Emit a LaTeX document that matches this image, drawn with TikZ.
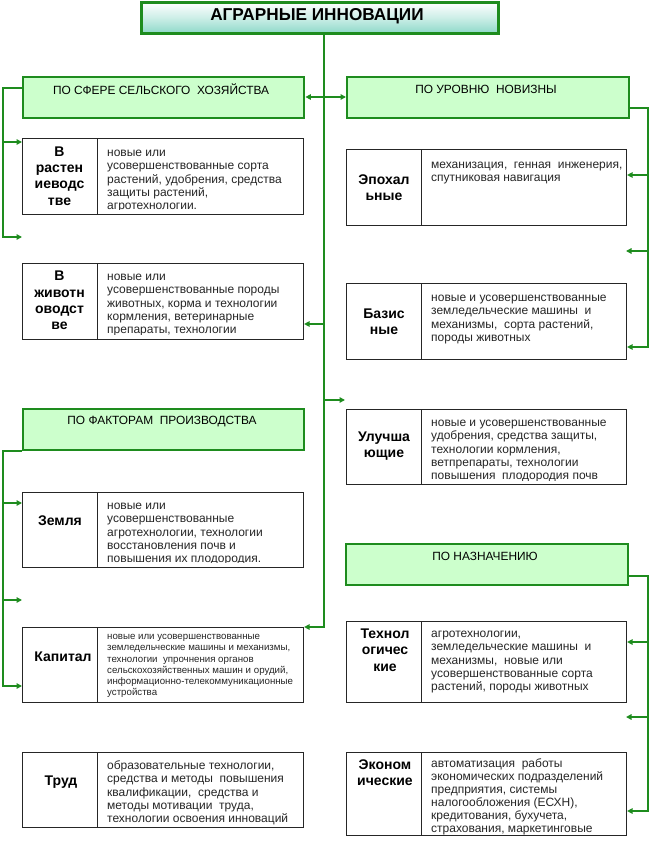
\documentclass[tikz,border=0pt]{standalone}
\usepackage{fontspec}
\setmainfont{Liberation Sans}
\usetikzlibrary{arrows.meta,calc}
\definecolor{gline}{HTML}{1E8C1E}
\definecolor{hfill}{HTML}{CCFFCC}
\definecolor{tfill}{HTML}{8ED9C9}
\definecolor{txt}{HTML}{262626}
\begin{document}
\begin{tikzpicture}[x=1pt,y=-1pt,
 conn/.style={draw=gline,line width=1.9pt},
 arr/.style={conn,-{Triangle[length=5.5pt,width=5.5pt]}},
 dbl/.style={conn,{Triangle[length=5.5pt,width=5.5pt]}-{Triangle[length=5.5pt,width=5.5pt]}},
 hdr/.style={draw=gline,line width=2.4pt,fill=hfill,anchor=north west,inner sep=0,minimum height=41pt},
 ttl/.style={draw=gline,line width=2.6pt,top color=white,bottom color=tfill,middle color=white!55!tfill,anchor=north west,inner sep=0},
 cell/.style={draw=black!85,line width=1.1pt,fill=white,anchor=north west,inner sep=0},
 lab/.style={font=\fontsize{14}{16.3}\selectfont\bfseries,align=center,inner sep=0},
 desc/.style={font=\fontsize{12}{13.4}\selectfont,text=txt,align=left,inner sep=0,anchor=north west},
 descs/.style={font=\fontsize{9.7}{11.2}\selectfont,text=txt,align=left,inner sep=0,anchor=north west},
 htxt/.style={font=\fontsize{11.9}{13}\selectfont,inner sep=0}
]
\useasboundingbox (0,0) rectangle (650,845);

% title
\node[ttl,minimum width=357pt,minimum height=31pt] (title) at (140,1) {};
\node[font=\fontsize{17.2}{19}\selectfont\bfseries,inner sep=0] (ttext) at (317,16.5) {АГРАРНЫЕ ИННОВАЦИИ};

% headers
\node[hdr,minimum width=281pt] (h1) at (22,76) {};
\node[htxt] (h1t) at (161,89) {ПО СФЕРЕ СЕЛЬСКОГО\ \ ХОЗЯЙСТВА};
\node[hdr,minimum width=282pt] (h2) at (346,76) {};
\node[htxt] (h2t) at (486,89) {ПО УРОВНЮ\ \ НОВИЗНЫ};
\node[hdr,minimum width=281pt] (h3) at (22,408) {};
\node[htxt] (h3t) at (162,422) {ПО ФАКТОРАМ\ \ ПРОИЗВОДСТВА};
\node[hdr,minimum width=282pt] (h4) at (345,543) {};
\node[htxt] (h4t) at (485,556) {ПО НАЗНАЧЕНИЮ};

% ---------- left column boxes ----------
% A
\node[cell,minimum width=75pt,minimum height=76pt] (aL) at (22,138) {};
\node[cell,minimum width=206pt,minimum height=76pt] (aR) at (97,138) {};
\node[lab] (aLt) at (59.5,176) {В\\растен\\иеводс\\тве};
\begin{scope}
\clip (aR.north west) rectangle ($(aR.south east)+(0,-6)$);
\node[desc] (aRt) at (107,145) {\rule{0pt}{11pt}новые или\\
усовершенствованные сорта\\
растений, удобрения, средства\\
защиты растений,\\
агротехнологии.};
\end{scope}
% B
\node[cell,minimum width=75pt,minimum height=76pt] (bL) at (22,263) {};
\node[cell,minimum width=206pt,minimum height=76pt] (bR) at (97,263) {};
\node[lab] (bLt) at (59.5,300.5) {В\\животн\\оводст\\ве};
\begin{scope}
\clip (bR.north west) rectangle ($(bR.south east)+(0,-6)$);
\node[desc] (bRt) at (107,269) {\rule{0pt}{11pt}новые или\\
усовершенствованные породы\\
животных, корма и технологии\\
кормления, ветеринарные\\
препараты, технологии};
\end{scope}
% C
\node[cell,minimum width=75pt,minimum height=75pt] (cL) at (22,492) {};
\node[cell,minimum width=206pt,minimum height=75pt] (cR) at (97,492) {};
\node[lab] (cLt) at (60,521) {Земля};
\begin{scope}
\clip (cR.north west) rectangle ($(cR.south east)+(0,-6)$);
\node[desc] (cRt) at (107,498) {\rule{0pt}{11pt}новые или\\
усовершенствованные\\
агротехнологии, технологии\\
восстановления почв и\\
повышения их плодородия.};
\end{scope}
% D
\node[cell,minimum width=75pt,minimum height=75pt] (dL) at (22,627) {};
\node[cell,minimum width=206pt,minimum height=75pt] (dR) at (97,627) {};
\node[lab] (dLt) at (63,657) {Капитал};
\node[descs] (dRt) at (107,630.5) {\rule{0pt}{9pt}новые или усовершенствованные\\
земледельческие машины и механизмы,\\
технологии\ \ упрочнения органов\\
сельскохозяйственных машин и орудий,\\
информационно-телекоммуникационные\\
устройства};
% E
\node[cell,minimum width=75pt,minimum height=75pt] (eL) at (22,752) {};
\node[cell,minimum width=206pt,minimum height=75pt] (eR) at (97,752) {};
\node[lab] (eLt) at (61,782) {Труд};
\node[desc] (eRt) at (107,758) {\rule{0pt}{11pt}образовательные технологии,\\
средства и методы\ \ повышения\\
квалификации,\ \ средства и\\
методы мотивации\ \ труда,\\
технологии освоения инноваций};

% ---------- right column boxes ----------
% F
\node[cell,minimum width=75pt,minimum height=76pt] (fL) at (346,149) {};
\node[cell,minimum width=205pt,minimum height=76pt] (fR) at (421,149) {};
\node[lab] (fLt) at (384,188) {Эпохал\\ьные};
\node[desc] (fRt) at (431,157) {\rule{0pt}{11pt}механизация,\ \ генная\ \ инженерия,\\
спутниковая навигация};
% G
\node[cell,minimum width=75pt,minimum height=76pt] (gL) at (346,283) {};
\node[cell,minimum width=205pt,minimum height=76pt] (gR) at (421,283) {};
\node[lab] (gLt) at (384,322) {Базис\\ные};
\node[desc] (gRt) at (431,290) {\rule{0pt}{11pt}новые и усовершенствованные\\
земледельческие машины\ \ и\\
механизмы,\ \ сорта растений,\\
породы животных};
% H
\node[cell,minimum width=75pt,minimum height=75pt] (hL) at (346,409) {};
\node[cell,minimum width=205pt,minimum height=75pt] (hR) at (421,409) {};
\node[lab] (hLt) at (384,446) {Улучша\\ющие};
\begin{scope}
\clip (hR.north west) rectangle ($(hR.south east)+(0,-5)$);
\node[desc] (hRt) at (431,415) {\rule{0pt}{11pt}новые и усовершенствованные\\
удобрения, средства защиты,\\
технологии кормления,\\
ветпрепараты, технологии\\
повышения\ \ плодородия почв};
\end{scope}
% I
\node[cell,minimum width=75pt,minimum height=81pt] (iL) at (346,621) {};
\node[cell,minimum width=205pt,minimum height=81pt] (iR) at (421,621) {};
\node[lab] (iLt) at (385,650) {Технол\\огичес\\кие};
\node[desc] (iRt) at (431,626) {\rule{0pt}{11pt}агротехнологии,\\
земледельческие машины\ \ и\\
механизмы,\ \ новые или\\
усовершенствованные сорта\\
растений, породы животных};
% J
\node[cell,minimum width=75pt,minimum height=83pt] (jL) at (346,752) {};
\node[cell,minimum width=205pt,minimum height=83pt] (jR) at (421,752) {};
\node[lab] (jLt) at (385,772.5) {Эконом\\ические};
\node[desc,font=\fontsize{12}{13.1}\selectfont] (jRt) at (431,756) {\rule{0pt}{11pt}автоматизация\ \ работы\\
экономических подразделений\\
предприятия, системы\\
налогообложения (ЕСХН),\\
кредитования, бухучета,\\
страхования, маркетинговые};

% ---------- connectors ----------
\coordinate (spC) at (324,0);
\coordinate (spL) at (3,0);
\coordinate (spR) at (648,0);
\coordinate (frL1) at (22,237);
\coordinate (frL2) at (22,600);
\coordinate (frR1) at (626,251);
\coordinate (frR2) at (626,717);
\coordinate (frC) at (345,400);

% central spine
\draw[arr] (title.south -| spC) -- (spC |- dR.north east) -- (dR.north east);
\draw[arr] (spC |- 0,324) -- (bR.east |- 0,324);
\draw[arr] (spC |- frC) -- (frC);
\draw[dbl] (h1.east |- 0,97) -- (h2.west |- 0,97);

% left spine 1
\draw[arr] (h1.west |- 0,88) -- (spL |- 0,88) -- (spL |- frL1) -- (frL1);
\draw[arr] (spL |- 0,142) -- (aL.west |- 0,142);

% left spine 2
\draw[arr] (h3.south west) -- (spL |- h3.south west) -- (spL |- 0,686) -- (dL.west |- 0,686);
\draw[arr] (spL |- 0,503) -- (cL.west |- 0,503);
\draw[arr] (spL |- frL2) -- (frL2);

% right spine 1
\draw[arr] (h2.east |- 0,108) -- (spR |- 0,108) -- (spR |- 0,347) -- (gR.east |- 0,347);
\draw[arr] (spR |- 0,175) -- (fR.east |- 0,175);
\draw[arr] (spR |- frR1) -- (frR1);

% right spine 2
\draw[arr] (h4.east |- 0,576) -- (spR |- 0,576) -- (spR |- 0,811) -- (jR.east |- 0,811);
\draw[arr] (spR |- 0,642) -- (iR.east |- 0,642);
\draw[arr] (spR |- frR2) -- (frR2);
\end{tikzpicture}
\end{document}
